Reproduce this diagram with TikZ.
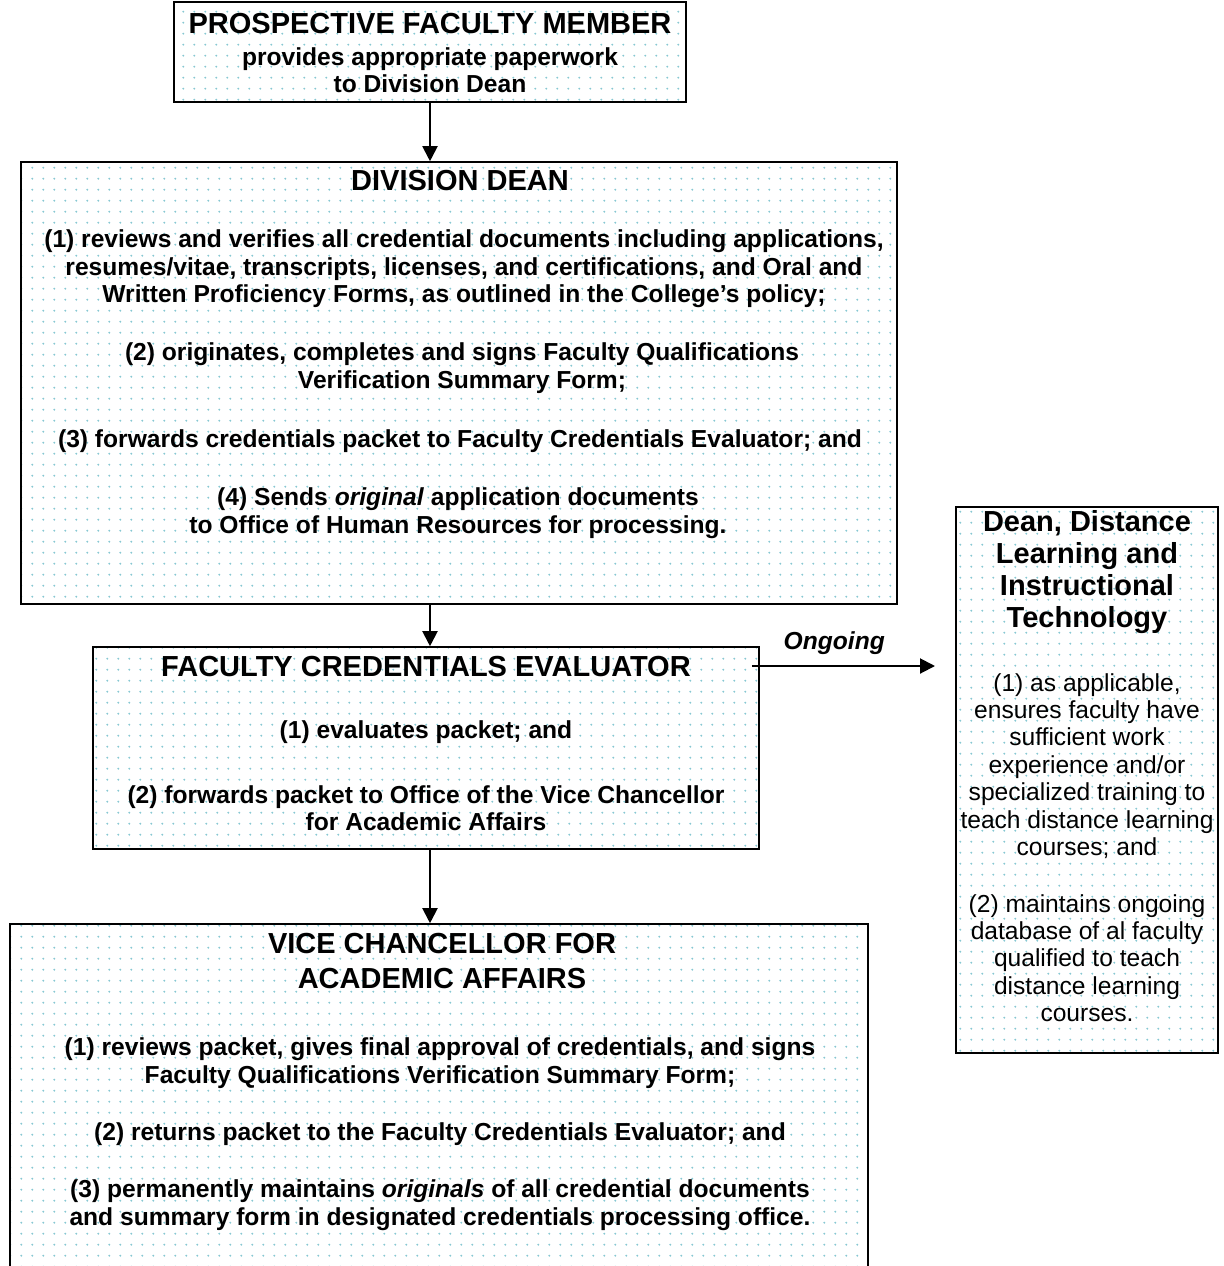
\documentclass[tikz,border=0pt]{standalone}
\usepackage{fontspec}
\setmainfont{Liberation Sans}
\usepackage{xcolor}
\usepackage{tikz}
\usetikzlibrary{arrows.meta}
\usetikzlibrary{patterns.meta}

\definecolor{dotcol}{RGB}{135,200,210}

\begin{document}
\begin{tikzpicture}[x=0.5pt, y=-0.5pt]
  \tikzstyle{box}=[draw, line width=0.8pt, inner sep=0pt, pattern={Dots[distance=5.4pt, radius=0.55pt]}, pattern color=dotcol]
  \tikzstyle{head}=[align=center, inner sep=0pt, font=\fontsize{14.5}{16}\selectfont\bfseries]
  \tikzstyle{txt}=[align=center, inner sep=0pt, font=\fontsize{12.3}{13.7}\selectfont\bfseries]
  \tikzstyle{plain}=[align=center, inner sep=0pt, font=\fontsize{12.3}{13.7}\selectfont]
  \tikzstyle{arr}=[-{Triangle[length=7.5pt, width=7.5pt]}, line width=1pt]
  \useasboundingbox (0,0) rectangle (1224,1266);

  % frames
  \node[box, minimum width=256pt, minimum height=50pt] (pfm) at (430,52) {};
  \node[box, minimum width=438pt, minimum height=221pt] (dd) at (459,383) {};
  \node[box, minimum width=333pt, minimum height=101pt] (fce) at (426,748) {};
  \node[box, minimum width=429pt, minimum height=176pt] (vcaa) at (439,1100) {};
  \node[box, minimum width=131pt, minimum height=273pt] (dl) at (1087,780) {};

  \node[head] (pfmhead) at (430,24) {PROSPECTIVE FACULTY MEMBER};
  \node[txt] (pfmtext) at (430,70) {provides appropriate paperwork\\to Division Dean};

  \node[head] (ddhead) at (460,181) {DIVISION DEAN};
  \node[txt] (ddone) at (464,269) {(1) reviews and verifies all credential documents including applications,\\resumes/vitae, transcripts, licenses, and certifications, and Oral and\\Written Proficiency Forms, as outlined in the College’s policy;};
  \node[txt] (ddtwo) at (462,368) {(2) originates, completes and signs Faculty Qualifications\\Verification Summary Form;};
  \node[txt] (ddthree) at (460,441) {(3) forwards credentials packet to Faculty Credentials Evaluator; and};
  \node[txt] (ddfour) at (458,513) {(4) Sends \textit{original} application documents\\to Office of Human Resources for processing.};

  \node[head] (fcehead) at (426,667) {FACULTY CREDENTIALS EVALUATOR};
  \node[txt] (fceone) at (426,732) {(1) evaluates packet; and};
  \node[txt] (fcetwo) at (426,808) {(2) forwards packet to Office of the Vice Chancellor\\for Academic Affairs};

  \node[head, font=\fontsize{14.5}{17.5}\selectfont\bfseries] (vcaahead) at (442,961) {VICE CHANCELLOR FOR\\ACADEMIC AFFAIRS};
  \node[txt] (vcaaone) at (440,1063) {(1) reviews packet, gives final approval of credentials, and signs\\Faculty Qualifications Verification Summary Form;};
  \node[txt] (vcaatwo) at (440,1134) {(2) returns packet to the Faculty Credentials Evaluator; and};
  \node[txt] (vcaathree) at (440,1205) {(3) permanently maintains \textit{originals} of all credential documents\\and summary form in designated credentials processing office.};

  \node[head] (dlhead) at (1087,572) {Dean, Distance\\Learning and\\Instructional\\Technology};
  \node[plain] (dlone) at (1087,766) {(1) as applicable,\\ensures faculty have\\sufficient work\\experience and/or\\specialized training to\\teach distance learning\\courses; and};
  \node[plain] (dltwo) at (1087,958) {(2) maintains ongoing\\database of al faculty\\qualified to teach\\distance learning\\courses.};

  \coordinate (spine) at (430,0);
  \coordinate (ongoing) at (935,666);
  \draw[arr] (pfm.south) -- (pfm.south |- dd.north);
  \draw[arr] (spine |- dd.south) -- (spine |- fce.north);
  \draw[arr] (spine |- fce.south) -- (spine |- vcaa.north);
  \draw[arr] (fce.east |- ongoing) ++(-8,0) -- (ongoing)
    node[pos=0.45, above, yshift=2pt, font=\fontsize{12.3}{13.7}\selectfont\bfseries\itshape] (ongoinglabel) {Ongoing};
\end{tikzpicture}
\end{document}
